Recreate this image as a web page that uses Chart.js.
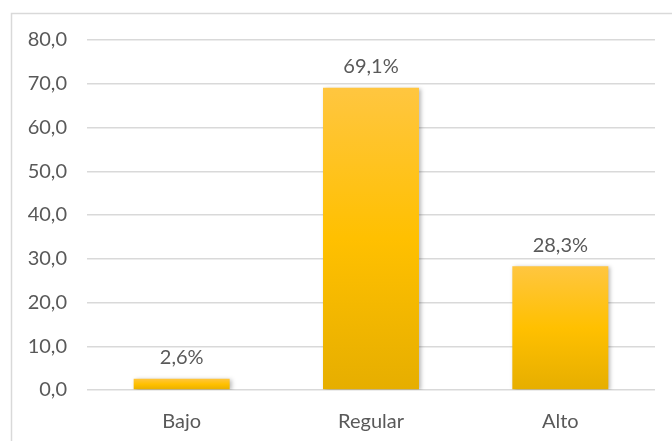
<!DOCTYPE html>
<html>
<head>
<meta charset="utf-8">
<script src="https://cdn.jsdelivr.net/npm/chart.js@4.4.1/dist/chart.umd.min.js"></script>
<style>
  html, body { margin: 0; padding: 0; background: #ffffff; }
  #wrap { position: relative; width: 672px; height: 441px; }
</style>
</head>
<body>
<div id="wrap"><canvas id="chart" width="672" height="441"></canvas></div>
<script>
// ===========================================
// DATA
// ===========================================

const categories = ["Bajo", "Regular", "Alto"];
const values = [2.6, 69.1, 28.3];
const yMin = 0;
const yMax = 80;
const yStep = 10;

// ===========================================
// HELPERS
// ===========================================

function comma(v, digits){
    return v.toFixed(digits).replace(".", ",");
}

// gradient runs over each bar's own height
function barGradient(context){
    const chart = context.chart;
    const area = chart.chartArea;
    if(!area || context.type !== "data"){
        return "#FFC000";
    }
    const yScale = chart.scales.y;
    const top = yScale.getPixelForValue(values[context.dataIndex]);
    const bottom = yScale.getPixelForValue(0);
    const g = chart.ctx.createLinearGradient(0, top, 0, bottom + 0.01);
    g.addColorStop(0, "#FFC640");
    g.addColorStop(0.5, "#FFC000");
    g.addColorStop(1, "#E6AE00");
    return g;
}

// frame round the chart
const framePlugin = {
    id: "frame",
    beforeDraw(chart){
        const ctx = chart.ctx;
        ctx.save();
        ctx.strokeStyle = "#d9d9d9";
        ctx.lineWidth = 1.5;
        ctx.strokeRect(11.5, 13.5, 700, 500);
        ctx.restore();
    }
};

// soft shadow on bars
const shadowPlugin = {
    id: "barShadow",
    beforeDatasetsDraw(chart){
        const ctx = chart.ctx;
        ctx.save();
        ctx.shadowColor = "rgba(0,0,0,0.28)";
        ctx.shadowBlur = 4;
        ctx.shadowOffsetX = 2;
        ctx.shadowOffsetY = 1;
    },
    afterDatasetsDraw(chart){
        chart.ctx.restore();
    }
};

// value labels above bars
const labelPlugin = {
    id: "valueLabels",
    afterDatasetsDraw(chart){
        const ctx = chart.ctx;
        const meta = chart.getDatasetMeta(0);
        ctx.save();
        ctx.font = "20px Lato";
        ctx.fillStyle = "#595959";
        ctx.textAlign = "center";
        ctx.textBaseline = "middle";
        meta.data.forEach((bar, i) => {
            ctx.fillText(comma(values[i], 1) + "%", bar.x, bar.y - 21);
        });
        ctx.restore();
    }
};

// ===========================================
// CHART
// ===========================================

new Chart(document.getElementById("chart"), {

    type: "bar",

    data: {
        labels: categories,
        datasets: [{
            data: values,
            backgroundColor: barGradient,
            borderWidth: 0,
            barPercentage: 0.507,
            categoryPercentage: 1
        }]
    },

    options: {
        responsive: false,
        animation: false,
        layout: {
            padding: { left: 0, right: 17, top: 40, bottom: 0 }
        },
        plugins: {
            legend: { display: false },
            tooltip: { enabled: false }
        },
        scales: {
            x: {
                grid: { display: false },
                border: { display: false },
                ticks: {
                    color: "#595959",
                    font: { family: "Lato", size: 20 },
                    padding: 12
                },
                afterFit(scale){ scale.height = 51; }
            },
            y: {
                min: yMin,
                max: yMax,
                grid: { color: "#d9d9d9", lineWidth: 1.5, drawTicks: false },
                border: { display: false },
                ticks: {
                    stepSize: yStep,
                    color: "#595959",
                    font: { family: "Lato", size: 20 },
                    padding: 20,
                    callback: (v) => comma(v, 1)
                },
                afterFit(scale){ scale.width = 87; }
            }
        }
    },

    plugins: [framePlugin, shadowPlugin, labelPlugin]

});
</script>
</body>
</html>
